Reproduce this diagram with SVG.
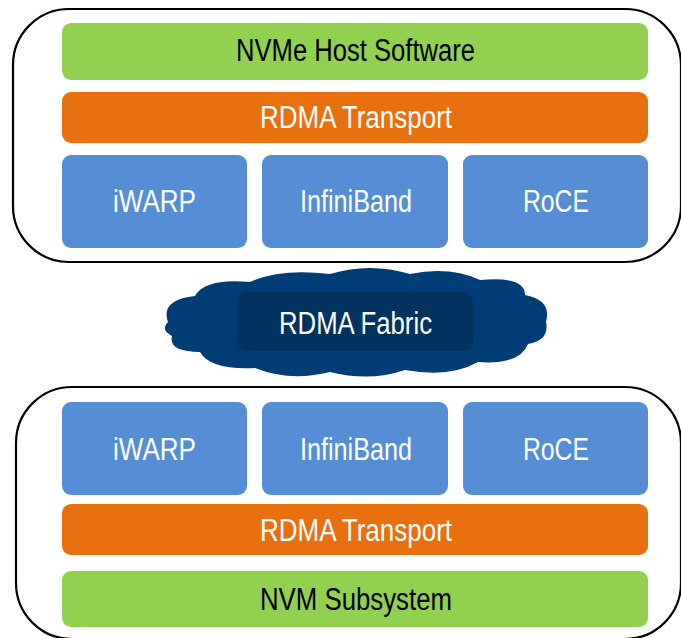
<svg xmlns="http://www.w3.org/2000/svg" width="681" height="638" viewBox="0 0 681 638">
<style>
.container{fill:#ffffff;stroke:#000000;stroke-width:2.2}
.green{fill:#92D050}
.orange{fill:#E8700F}
.blue{fill:#558ED5}
.t{font-family:"Liberation Sans Narrow","Liberation Sans",Arial,sans-serif;font-size:31px;text-anchor:middle}
.dark{fill:#000000}
.light{fill:#ffffff}
</style>
<rect width="681" height="638" fill="#ffffff"/>
<g id="host">
<rect class="container" x="13" y="9" width="668" height="253" rx="56" ry="56"/>
<g id="host-software"><rect class="green" x="62" y="23" width="586" height="57" rx="9"/><text class="t dark" x="355.5" y="61" textLength="239" lengthAdjust="spacingAndGlyphs">NVMe Host Software</text></g>
<g id="host-transport"><rect class="orange" x="62" y="92" width="586" height="51" rx="9"/><text class="t light" x="356" y="128" textLength="192" lengthAdjust="spacingAndGlyphs">RDMA Transport</text></g>
<g id="host-iwarp"><rect class="blue" x="62" y="155" width="185" height="93" rx="9"/><text class="t light" x="154.5" y="212" textLength="83" lengthAdjust="spacingAndGlyphs">iWARP</text></g>
<g id="host-infiniband"><rect class="blue" x="262" y="155" width="186" height="93" rx="9"/><text class="t light" x="356" y="212" textLength="112" lengthAdjust="spacingAndGlyphs">InfiniBand</text></g>
<g id="host-roce"><rect class="blue" x="463" y="155" width="185" height="93" rx="9"/><text class="t light" x="556" y="212" textLength="66" lengthAdjust="spacingAndGlyphs">RoCE</text></g>
</g>
<g id="fabric">
<path fill="#003C75" d="M 168 322 Q 160 300 195 296 Q 205 278 250 282 Q 280 268 330 274 Q 370 262 410 274 Q 450 266 480 280 Q 525 276 525 295 Q 552 300 546 322 Q 550 340 528 344 Q 520 365 478 362 Q 450 378 405 370 Q 370 382 330 372 Q 290 382 255 368 Q 210 370 200 352 Q 168 352 172 336 Q 160 330 168 322 Z"/>
<rect x="237" y="292" width="236" height="59" rx="10" fill="#00335F"/>
<text class="t light" x="355.5" y="334" textLength="153" lengthAdjust="spacingAndGlyphs">RDMA Fabric</text>
</g>
<g id="subsystem">
<rect class="container" x="16" y="387" width="665" height="252" rx="56" ry="56"/>
<g id="sub-iwarp"><rect class="blue" x="62" y="402" width="185" height="93" rx="9"/><text class="t light" x="154.5" y="460" textLength="83" lengthAdjust="spacingAndGlyphs">iWARP</text></g>
<g id="sub-infiniband"><rect class="blue" x="262" y="402" width="186" height="93" rx="9"/><text class="t light" x="356" y="460" textLength="112" lengthAdjust="spacingAndGlyphs">InfiniBand</text></g>
<g id="sub-roce"><rect class="blue" x="463" y="402" width="185" height="93" rx="9"/><text class="t light" x="556" y="460" textLength="66" lengthAdjust="spacingAndGlyphs">RoCE</text></g>
<g id="sub-transport"><rect class="orange" x="62" y="504" width="586" height="51" rx="9"/><text class="t light" x="356" y="541" textLength="192" lengthAdjust="spacingAndGlyphs">RDMA Transport</text></g>
<g id="nvm-subsystem"><rect class="green" x="62" y="571" width="586" height="56" rx="9"/><text class="t dark" x="356" y="610" textLength="192" lengthAdjust="spacingAndGlyphs">NVM Subsystem</text></g>
</g>
<g id="connectors"/>
</svg>
